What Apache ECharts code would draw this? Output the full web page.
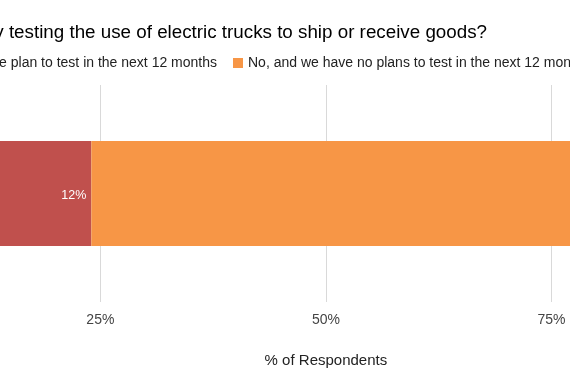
<!DOCTYPE html>
<html>
<head>
<meta charset="utf-8">
<script src="https://cdn.jsdelivr.net/npm/echarts@6/dist/echarts.min.js"></script>
<style>
html,body{margin:0;padding:0;width:570px;height:388px;overflow:hidden;background:#fff;}
#chart{position:absolute;left:-250px;top:0;width:1100px;height:388px;}
</style>
</head>
<body>
<div id="chart"></div>
<script>
const titleText = 'Is your company currently testing the use of electric trucks to ship or receive goods?';
const categories = ['Respondents'];
const seriesNames = ['Yes', 'No, but we plan to test in the next 12 months', 'No, and we have no plans to test in the next 12 months'];
const yesValues = [12];
const planValues = [12];
const noPlanValues = [76];
const seriesColors = ['#4f81bd', '#c0504d', '#f79646'];
const xTicks = [0, 25, 50, 75, 100];

const font = 'Liberation Sans, Arial, sans-serif';
const chart = echarts.init(document.getElementById('chart'), null, {renderer: 'canvas'});
const valueSets = [yesValues, planValues, noPlanValues];
chart.setOption({
  animation: false,
  textStyle: {fontFamily: font},
  title: {
    text: titleText,
    right: 363, top: 23, padding: 0,
    textStyle: {fontSize: 18.8, fontWeight: 'normal', color: '#000', fontFamily: font}
  },
  legend: [
    {data: [seriesNames[0], seriesNames[1]], right: 633, top: 56, padding: 0, itemGap: 16,
     icon: 'rect', itemWidth: 10, itemHeight: 10,
     textStyle: {fontSize: 14, color: '#222', fontFamily: font}},
    {data: [seriesNames[2]], left: 483, top: 56, padding: 0,
     icon: 'rect', itemWidth: 10, itemHeight: 10,
     textStyle: {fontSize: 14, color: '#222', fontFamily: font}}
  ],
  grid: {left: 124.8, right: 73, top: 85, bottom: 86, containLabel: false},
  xAxis: {
    type: 'value', min: xTicks[0], max: xTicks[xTicks.length - 1], interval: xTicks[1] - xTicks[0],
    name: '% of Respondents', nameLocation: 'middle', nameGap: 51,
    nameTextStyle: {fontSize: 15, color: '#222', fontFamily: font},
    axisLine: {show: false}, axisTick: {show: false},
    axisLabel: {formatter: '{value}%', fontSize: 14, color: '#444', margin: 11, fontFamily: font},
    splitLine: {show: true, lineStyle: {color: '#d9d9d9', width: 1}}
  },
  yAxis: {
    type: 'category', data: categories,
    axisLine: {show: false}, axisTick: {show: false}, axisLabel: {show: false},
    splitLine: {show: false}
  },
  series: seriesNames.map((n, i) => ({
    name: n, type: 'bar', stack: 'total', barWidth: 105,
    data: valueSets[i],
    itemStyle: {color: seriesColors[i]},
    label: {show: true, position: 'insideRight', distance: 5, offset: [0, 2], formatter: '{c}%', color: '#fff', fontSize: 12.5, fontFamily: font}
  }))
});
</script>
</body>
</html>
